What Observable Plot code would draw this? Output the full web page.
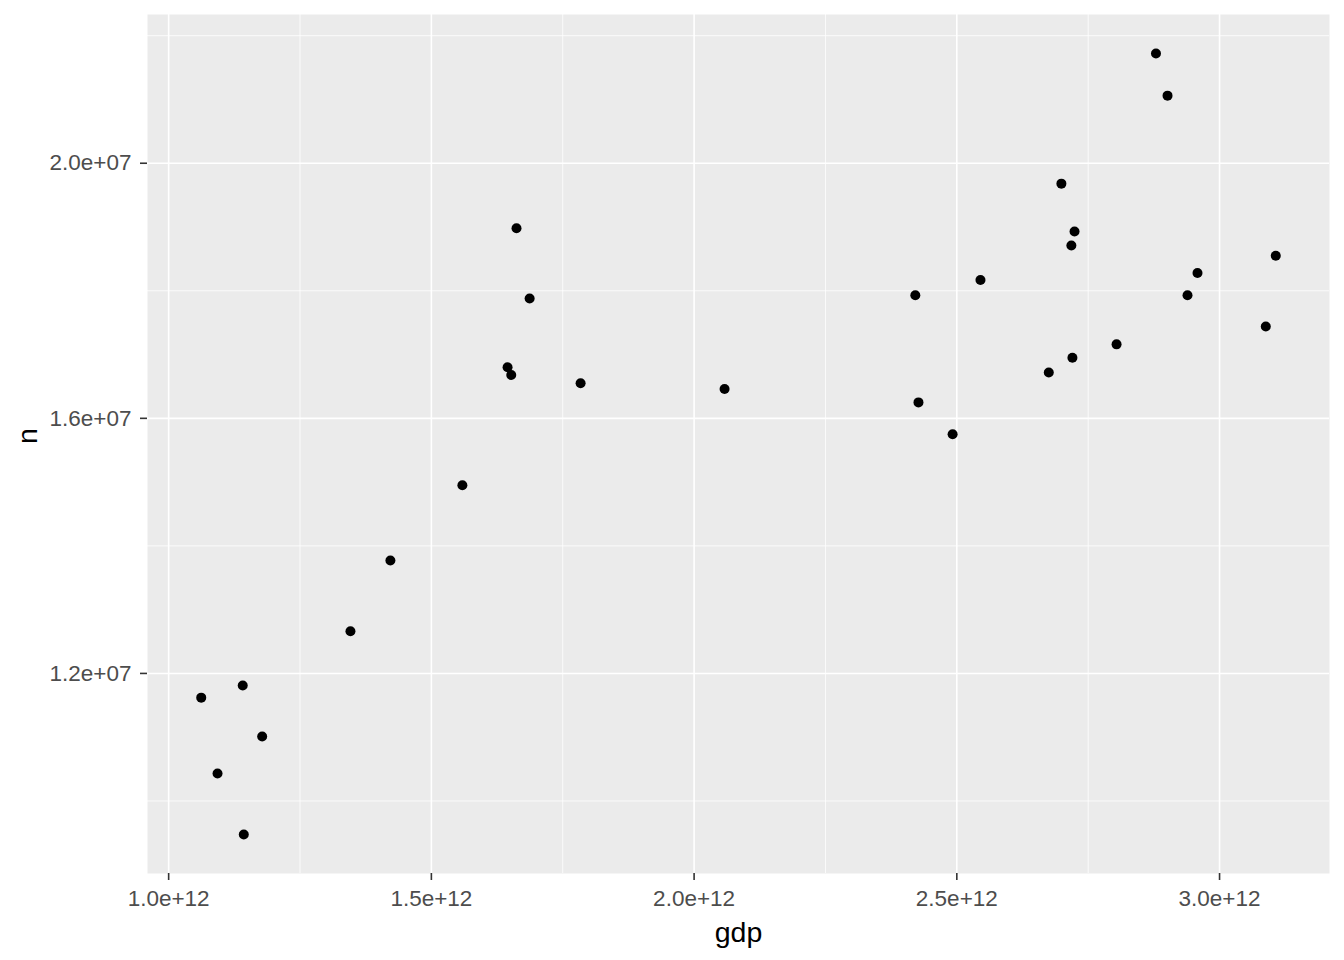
<!DOCTYPE html>
<html>
<head>
<meta charset="utf-8">
<script src="https://cdn.jsdelivr.net/npm/d3@7"></script>
<script src="https://cdn.jsdelivr.net/npm/@observablehq/plot@0.6"></script>
<style>
  html, body { margin: 0; padding: 0; background: white; }
</style>
</head>
<body>
<div id="chart"></div>
<script>
// Data
const gdp = [
  1.141e12, 1.062e12, 1.178e12, 1.093e12, 1.143e12,
  1.662e12, 1.687e12, 1.645e12, 1.652e12, 1.784e12,
  2.058e12, 1.559e12, 1.422e12, 1.346e12, 2.879e12,
  2.901e12, 2.699e12, 2.724e12, 2.718e12, 3.107e12,
  2.958e12, 2.545e12, 2.421e12, 2.939e12, 3.088e12,
  2.804e12, 2.720e12, 2.675e12, 2.427e12, 2.492e12
];
const n = [
  1.181e7, 1.162e7, 1.101e7, 1.043e7, 0.9475e7,
  1.898e7, 1.788e7, 1.680e7, 1.668e7, 1.655e7,
  1.646e7, 1.495e7, 1.377e7, 1.266e7, 2.172e7,
  2.106e7, 1.968e7, 1.893e7, 1.871e7, 1.855e7,
  1.828e7, 1.817e7, 1.793e7, 1.793e7, 1.744e7,
  1.716e7, 1.695e7, 1.672e7, 1.625e7, 1.575e7
];
const xMajor = [1.0e12, 1.5e12, 2.0e12, 2.5e12, 3.0e12];
const xMinor = [1.25e12, 1.75e12, 2.25e12, 2.75e12];
const yMajor = [1.2e7, 1.6e7, 2.0e7];
const yMinor = [1.0e7, 1.4e7, 1.8e7, 2.2e7];
const xTitle = "gdp";
const yTitle = "n";

const points = gdp.map((g, i) => ({gdp: g, n: n[i]}));

function expand(arr, f) {
  const [lo, hi] = d3.extent(arr);
  const pad = (hi - lo) * f;
  return [lo - pad, hi + pad];
}
const fmt = (exp) => (v) => (v / Math.pow(10, exp)).toFixed(1) + "e+" + String(exp).padStart(2, "0");

const chart = Plot.plot({
  width: 1344,
  height: 960,
  marginLeft: 147,
  marginRight: 15,
  marginTop: 14,
  marginBottom: 87,
  style: {
    fontFamily: "'Liberation Sans', Arial, sans-serif",
    fontSize: "22.5px",
    background: "white",
    color: "#4D4D4D"
  },
  x: {domain: expand(gdp, 0.05)},
  y: {domain: expand(n, 0.05)},
  marks: [
    Plot.frame({fill: "#EBEBEB", stroke: null}),
    Plot.ruleX(xMinor, {stroke: "white", strokeWidth: 0.8}),
    Plot.ruleY(yMinor, {stroke: "white", strokeWidth: 0.8}),
    Plot.ruleX(xMajor, {stroke: "white", strokeWidth: 1.6}),
    Plot.ruleY(yMajor, {stroke: "white", strokeWidth: 1.6}),
    Plot.axisX({ticks: xMajor, tickFormat: fmt(12), tickSize: 7, tickPadding: 10,
      stroke: "#333333", strokeWidth: 1.6, fill: "#4D4D4D", label: null}),
    Plot.axisY({ticks: yMajor, tickFormat: fmt(7), tickSize: 7, tickPadding: 9,
      stroke: "#333333", strokeWidth: 1.6, fill: "#4D4D4D", label: null}),
    Plot.text([xTitle], {frameAnchor: "bottom", dy: 59, fill: "black", fontSize: 28.5, lineAnchor: "middle"}),
    Plot.text([yTitle], {frameAnchor: "left", dx: -120, rotate: -90, fill: "black", fontSize: 28.5, lineAnchor: "middle"}),
    Plot.dot(points, {x: "gdp", y: "n", r: 5, fill: "black", stroke: null})
  ]
});
document.getElementById("chart").appendChild(chart);
</script>
</body>
</html>
